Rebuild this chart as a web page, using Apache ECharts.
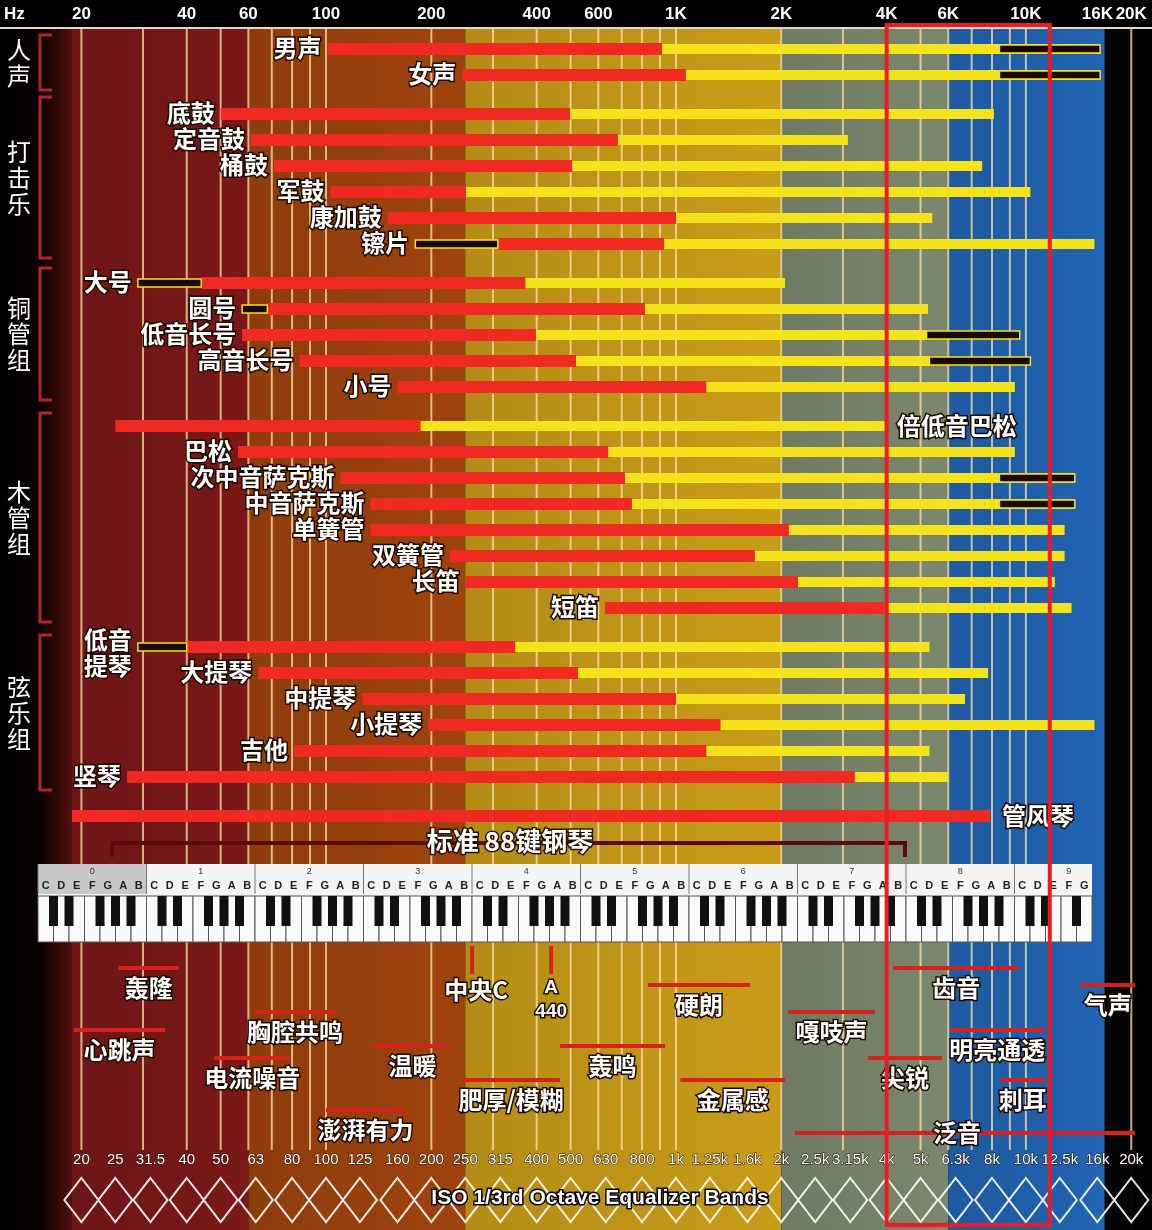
<!DOCTYPE html>
<html><head><meta charset="utf-8">
<script src="https://cdn.jsdelivr.net/npm/echarts@6/dist/echarts.min.js"></script>
<style>html,body{margin:0;padding:0;background:#000}#c{width:1152px;height:1230px}</style>
</head><body><div id="c"></div>
<script>
// ---- data ----
const names=['男声','女声','底鼓','定音鼓','桶鼓','军鼓','康加鼓','镲片','大号','圆号','低音长号','高音长号','小号','倍低音巴松','巴松','次中音萨克斯','中音萨克斯','单簧管','双簧管','长笛','短笛','低音\n提琴','大提琴','中提琴','小提琴','吉他','竖琴','管风琴'];
const groups=[0,0,1,1,1,1,1,1,2,2,2,2,2,3,3,3,3,3,3,3,3,4,4,4,4,4,4,5];
const redStart=[101,245,50,61,71,103,150,310,44,68,57.6,84,160,25,56,110,134,134,226,251,627,40,64,127,196,81,27,18.8];
const redEnd=[912,1067,498,682,505,251,1000,925,371,815,398,518,1220,186,640,715,748,2100,1680,2230,3950,347,525,1000,1340,1220,3240,7900];
const yellowEnd=[16300,16300,8100,3100,7500,10300,5400,15700,2050,5250,5200,5300,9300,3950,9300,13800,13800,12900,12900,12100,13500,5300,7800,6700,15700,5300,6000,null];
const blackStart=[8400,8400,null,null,null,null,null,180,29,57.6,5200,5300,null,null,null,8400,8400,null,null,null,null,29,null,null,null,null,null,null];
const blackEnd=[16300,16300,null,null,null,null,null,310,44,68,9600,10300,null,null,null,13800,13800,null,null,null,null,40,null,null,null,null,null,null];
const groupNames=['人\n声','打\n击\n乐','铜\n管\n组','木\n管\n组','弦\n乐\n组'];
const bandFrom=[18.8,60,250,2000,6000,16800];
const bandTo=[60,250,2000,6000,16800,20500];
const bandColors=['#6e1616','#8e3c0c','#b48c16','#6e7a62','#1e5aa0','#050505'];
const gridFreqs=[20,30,40,50,60,70,80,90,100,200,300,400,500,600,700,800,900,1000,2000,3000,4000,5000,6000,7000,8000,9000,10000,20000];
const topTickFreqs=[20,40,60,100,200,400,600,1000,2000,4000,6000,10000,16000,20000];
const topTickLabels=['20','40','60','100','200','400','600','1K','2K','4K','6K','10K','16K','20K'];
const eqFreqs=[20,25,31.5,40,50,63,80,100,125,160,200,250,315,400,500,630,800,1000,1250,1600,2000,2500,3150,4000,5000,6300,8000,10000,12500,16000,20000];
const eqLabels=['20','25','31.5','40','50','63','80','100','125','160','200','250','315','400','500','630','800','1k','1.25k','1.6k','2k','2.5k','3.15k','4k','5k','6.3k','8k','10k','12.5k','16k','20k'];
const toneNames=['轰隆','心跳声','胸腔共鸣','电流噪音','澎湃有力','温暖','肥厚/模糊','轰鸣','硬朗','金属感','嘎吱声','齿音','尖锐','明亮通透','刺耳','泛音','气声'];
const toneFrom=[25.5,19,62.7,48,100,138,245,466,832,1030,2090,4170,3540,6070,8500,2190,14300];
const toneTo=[38,34.7,106,79,168,226,466,931,1630,2050,3700,9600,5750,11300,11300,20500,20500];
const toneRow=[0,3,2,5,7,4,6,4,1,6,2,0,5,3,6,8,1];
const noteFreqs=[261.6,440];
const noteNames=['中央C','A\n440'];
const highlightFrom=4000, highlightTo=11700;

// ---- layout ----
const rowY=i=>49+26*i+13*groups[i];
const toneRowY=[968,985,1012,1030,1046,1058,1080,1110,1133];
const WHITE='#ffffff';
const txt=(x,y,t,o)=>Object.assign({type:'text',x,y,style:Object.assign({text:t,fill:WHITE,font:'bold 24px "Noto Sans CJK SC"',stroke:'#1a0a00',lineWidth:3,align:'center',verticalAlign:'middle'},o||{})});

const chart=echarts.init(document.getElementById('c'));
const series=[];
series.push({type:'custom',silent:true,z:1,data:bandFrom.map((f,i)=>[f,bandTo[i],i]),
 renderItem:(p,api)=>{const a=api.coord([api.value(0),28]),b=api.coord([api.value(1),1230]);const i=api.value(2);
  return {type:'rect',shape:{x:a[0],y:a[1],width:b[0]-a[0],height:b[1]-a[1]},style:{fill:new echarts.graphic.LinearGradient(0,0,1,0,[{offset:0,color:bandColors[i]},{offset:1,color:echarts.color.lift(bandColors[i],-0.12)}])}};}});
series.push({type:'custom',silent:true,z:2,data:gridFreqs.map(f=>[f]),
 renderItem:(p,api)=>{const a=api.coord([api.value(0),28]);const b=api.coord([api.value(0),1150]);
  return {type:'line',shape:{x1:a[0],y1:a[1],x2:b[0],y2:b[1]},style:{stroke:'rgba(255,225,170,0.75)',lineWidth:2}};}});
series.push({type:'custom',silent:true,z:5,data:topTickFreqs.map((f,i)=>[f,i]),
 renderItem:(p,api)=>{const a=api.coord([api.value(0),14]);return txt(a[0],a[1],topTickLabels[api.value(1)],{font:'bold 17px "Liberation Sans"',stroke:'#000',lineWidth:1});}});
series.push({type:'custom',silent:true,z:4,data:names.map((n,i)=>[i]),
 renderItem:(p,api)=>{const i=api.value(0);const y=rowY(i);const ch=[];
  const X=f=>api.coord([f,y])[0];
  const xr0=X(redStart[i]),xr1=X(redEnd[i]);
  if(yellowEnd[i]){ch.push({type:'rect',shape:{x:xr1,y:y-5,width:X(yellowEnd[i])-xr1,height:10},style:{fill:'#f4e21a'}});}
  ch.push({type:'rect',shape:{x:xr0,y:y-6,width:xr1-xr0,height:12},style:{fill:'#f02a22'}});
  if(blackStart[i]){const b0=X(blackStart[i]),b1=X(blackEnd[i]);ch.push({type:'rect',shape:{x:b0,y:y-4,width:b1-b0,height:8},style:{fill:'#1a0a05',stroke:'#f4e21a',lineWidth:1.5}});}
  let lx=Math.min(xr0,blackStart[i]&&blackStart[i]<redStart[i]?X(blackStart[i]):1e9)-6;
  if(names[i]==='倍低音巴松') ch.push(txt(X(yellowEnd[i])+12,y,names[i],{align:'left'}));
  else if(names[i]==='管风琴') ch.push(txt(xr1+12,y,names[i],{align:'left'}));
  else ch.push(txt(lx,names[i].indexOf('\n')>=0?y+6:y-1,names[i],{align:'right',lineHeight:26}));
  return {type:'group',children:ch};}});
series.push({type:'custom',silent:true,z:4,data:toneNames.map((n,i)=>[toneFrom[i],toneTo[i],i]),
 renderItem:(p,api)=>{const i=api.value(2);const y=toneRowY[toneRow[i]];const a=api.coord([api.value(0),y])[0],b=api.coord([api.value(1),y])[0];
  const ch=[{type:'rect',shape:{x:a,y:y-2,width:b-a,height:4},style:{fill:'#d8201c'}}];
  const cx=toneNames[i]==='泛音'?957:(a+b)/2;
  ch.push(txt(cx,toneNames[i]==='泛音'?y:y+20,toneNames[i]));
  return {type:'group',children:ch};}});
series.push({type:'custom',silent:true,z:4,data:noteFreqs.map((f,i)=>[f,i]),
 renderItem:(p,api)=>{const a=api.coord([api.value(0),948]);const i=api.value(1);const t=noteNames[i];
  return {type:'group',children:[{type:'rect',shape:{x:a[0]-2,y:946,width:4,height:28},style:{fill:'#d8201c'}},
   txt(a[0]+(i===0?4:0),i===0?990:1000,t,{font:i===0?'bold 24px "Noto Sans CJK SC"':'bold 19px "Liberation Sans"',lineHeight:24})]};}});
series.push({type:'custom',silent:true,z:4,data:eqFreqs.map((f,i)=>[f,i]),
 renderItem:(p,api)=>{const x=api.coord([api.value(0),1160])[0];
  return {type:'group',children:[txt(x,1160,eqLabels[api.value(1)],{font:'15px "Liberation Sans Narrow","Liberation Sans"',lineWidth:1}),
   {type:'polygon',shape:{points:[[x,1178],[x+17,1200],[x,1222],[x-17,1200]]},style:{fill:'none',stroke:'rgba(255,255,255,0.9)',lineWidth:2}}]};}});
series.push({type:'custom',silent:true,z:10,data:[[highlightFrom,highlightTo]],
 renderItem:(p,api)=>{const a=api.coord([api.value(0),25]),b=api.coord([api.value(1),1225]);
  return {type:'rect',shape:{x:a[0],y:a[1],width:b[0]-a[0],height:b[1]-a[1]},style:{fill:'none',stroke:'#ec1c24',lineWidth:4}};}});

const g=[];
g.push({type:'rect',shape:{x:0,y:0,width:74,height:1230},style:{fill:new echarts.graphic.LinearGradient(0,0,1,0,[{offset:0,color:'#000'},{offset:0.55,color:'#0a0202'},{offset:1,color:'#5a1010'}])},z:0});
g.push({type:'rect',shape:{x:0,y:0,width:1152,height:28},style:{fill:'#000'},z:3});
g.push({type:'line',shape:{x1:0,y1:28,x2:1152,y2:28},style:{stroke:'#e8d8c0',lineWidth:2},z:3});
g.push({type:'text',x:4,y:14,style:{text:'Hz',fill:'#fff',font:'bold 17px "Liberation Sans"',verticalAlign:'middle'},z:4});
const gRanges=[[35,90],[97,258],[268,400],[413,622],[635,790]];
gRanges.forEach((r,i)=>{
 g.push({type:'polyline',shape:{points:[[52,r[0]],[40,r[0]],[40,r[1]],[52,r[1]]]},style:{stroke:'#b0242a',lineWidth:3,fill:'none'},z:4});
 g.push({type:'text',x:19,y:(r[0]+r[1])/2,style:{text:groupNames[i],fill:'#fff',font:'24px "Noto Sans CJK SC"',align:'center',verticalAlign:'middle',lineHeight:26},z:4});
});
g.push({type:'polyline',shape:{points:[[112,857],[112,843],[905,843],[905,857]]},style:{stroke:'#5a0c0c',lineWidth:4,fill:'none'},z:4});
g.push({type:'text',x:510,y:841,style:{text:'标准 88键钢琴',fill:'#fff',font:'bold 26px "Noto Sans CJK SC"',stroke:'#2a1000',lineWidth:3,align:'center',verticalAlign:'middle'},z:5});
const px0=38,kw=15.5,nW=68,ky=864;
g.push({type:'rect',shape:{x:px0,y:ky,width:kw*nW,height:78},style:{fill:'#f4f4f4'},z:5});
g.push({type:'rect',shape:{x:px0,y:ky,width:kw*7,height:30},style:{fill:'#c8c8c8'},z:5});
const letters='CDEFGAB';
for(let k=0;k<nW;k++){const x=px0+k*kw;
 g.push({type:'rect',shape:{x:x,y:ky+32,width:kw,height:46},style:{fill:'#fafafa',stroke:'#555',lineWidth:1},z:5});
 g.push({type:'text',x:x+kw/2,y:ky+22,style:{text:letters[k%7],fill:'#222',font:'bold 11px "Liberation Sans"',align:'center',verticalAlign:'middle'},z:6});
 if(k%7===0){g.push({type:'text',x:x+kw*3.5,y:ky+8,style:{text:String(k/7),fill:'#333',font:'9px "Liberation Sans"',align:'center',verticalAlign:'middle'},z:6});
  g.push({type:'line',shape:{x1:x,y1:ky,x2:x,y2:ky+30},style:{stroke:'#777',lineWidth:1},z:6});}
 if([0,1,3,4,5].indexOf(k%7)>=0 && k<nW-1) g.push({type:'rect',shape:{x:x+kw-4.5,y:ky+32,width:9,height:30},style:{fill:'#111'},z:6});
}
g.push({type:'text',x:600,y:1198,style:{text:'ISO 1/3rd Octave Equalizer Bands',fill:'#fff',font:'bold 21px "Liberation Sans Narrow","Liberation Sans"',stroke:'#000',lineWidth:3,align:'center',verticalAlign:'middle'},z:6});

chart.setOption({animation:false,backgroundColor:'#000',
 grid:{left:72,right:17,top:0,bottom:0},
 xAxis:{type:'log',min:18.8,max:20500,show:false},
 yAxis:{type:'value',min:0,max:1230,inverse:true,show:false},
 series:series,graphic:g});
</script></body></html>
